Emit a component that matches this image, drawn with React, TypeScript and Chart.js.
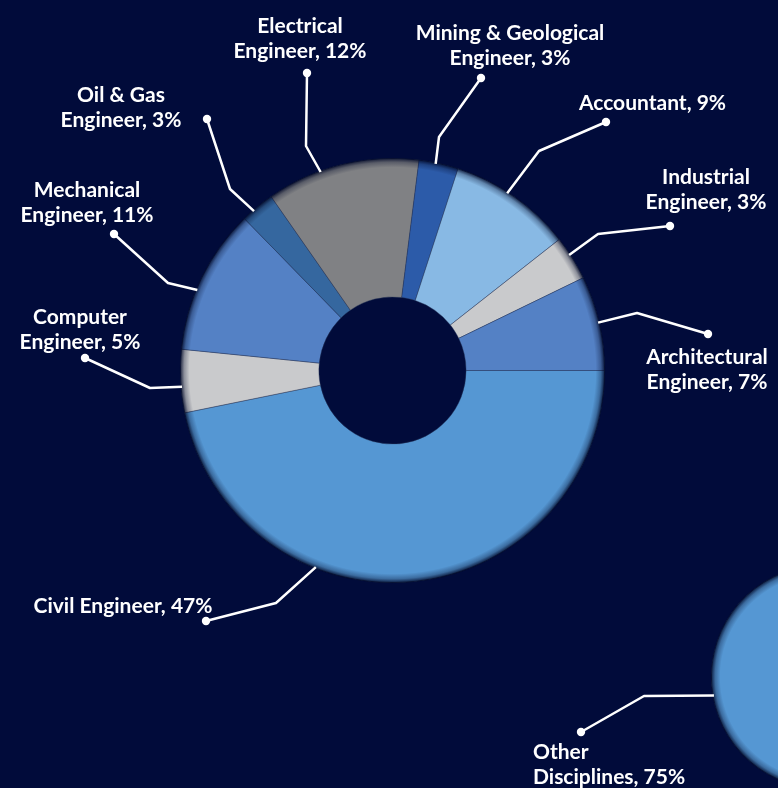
import React, { useEffect, useRef } from "react";
import { Chart, registerables } from "chart.js";

Chart.register(...registerables);

// ---------- data ----------
const categories = [
  "Civil Engineer",
  "Computer Engineer",
  "Mechanical Engineer",
  "Oil & Gas Engineer",
  "Electrical Engineer",
  "Mining & Geological Engineer",
  "Accountant",
  "Industrial Engineer",
  "Architectural Engineer",
];
const shares = [46.8, 4.8, 11.1, 2.6, 11.7, 3.0, 9.4, 3.4, 7.2];
const labelLines = [
  ["Civil Engineer, 47%"],
  ["Computer", "Engineer, 5%"],
  ["Mechanical", "Engineer, 11%"],
  ["Oil & Gas", "Engineer, 3%"],
  ["Electrical", "Engineer, 12%"],
  ["Mining & Geological", "Engineer, 3%"],
  ["Accountant, 9%"],
  ["Industrial", "Engineer, 3%"],
  ["Architectural", "Engineer, 7%"],
];

const overallCategories = ["Other Disciplines", "Engineering & Related"];
const overallShares = [75, 25];
const overallLabelLines = [["Other", "Disciplines, 75%"], null];

// ---------- styles / layout ----------
const BG = "#010b3a";
const sliceColors = [
  "#5597d3",
  "#c9cacc",
  "#5481c5",
  "#35679f",
  "#808184",
  "#2c5ba9",
  "#88b9e4",
  "#c9cacc",
  "#5481c5",
];
const overallColors = ["#5597d3", "#2c5ba9"];

type Leader = { a: number; elbow: number[]; dot: number[]; text: number[]; align: CanvasTextAlign };

const mainLeaders: Leader[] = [
  { a: 111.3, elbow: [-116.5, 232.5], dot: [-186.5, 250.5], text: [-269.5, 235.5], align: "center" },
  { a: 175.6, elbow: [-242.5, 17.5], dot: [-307.5, -12.5], text: [-312.5, -53.5], align: "center" },
  { a: 202.4, elbow: [-224.5, -87.5], dot: [-278.5, -136.5], text: [-305.5, -180.5], align: "center" },
  { a: 229.0, elbow: [-162.5, -181.5], dot: [-185.5, -251.5], text: [-271.5, -275.5], align: "center" },
  { a: 250.1, elbow: [-86.5, -224.5], dot: [-85.5, -297.5], text: [-92.5, -344.5], align: "center" },
  { a: 281.8, elbow: [46.5, -233.5], dot: [88.5, -292.5], text: [117.5, -337.5], align: "center" },
  { a: 302.9, elbow: [146.5, -219.5], dot: [213.5, -248.5], text: [260, -267.5], align: "center" },
  { a: 326.8, elbow: [205.5, -136.5], dot: [277.5, -144.5], text: [313.5, -193.5], align: "center" },
  { a: 346.9, elbow: [244.5, -57.5], dot: [315.5, -36.5], text: [314.5, -13.5], align: "center" },
];
const overallLeaders: (Leader | null)[] = [
  { a: 170.4, elbow: [-179, 19], dot: [-242, 55], text: [-290, 75], align: "left" },
  null,
];

const FONT = "bold 21px Lato";
const LINE_GAP = 25;

function makeDecorPlugin(id: string, leaders: (Leader | null)[], texts: (string[] | null)[]) {
  return {
    id,
    afterDatasetsDraw(chart: any) {
      const meta = chart.getDatasetMeta(0);
      const first = meta.data[0];
      if (!first) return;
      const cx = first.x;
      const cy = first.y;
      const R = first.outerRadius;
      const ctx: CanvasRenderingContext2D = chart.ctx;
      ctx.save();
      // soft inner shading at the rim
      const w = 9;
      const g = ctx.createRadialGradient(cx, cy, R - w, cx, cy, R + 0.5);
      g.addColorStop(0, "rgba(0,8,40,0)");
      g.addColorStop(0.55, "rgba(0,8,40,0.3)");
      g.addColorStop(1, "rgba(0,8,40,0.9)");
      ctx.beginPath();
      ctx.arc(cx, cy, R + 0.5, 0, Math.PI * 2);
      ctx.arc(cx, cy, R - w, 0, Math.PI * 2, true);
      ctx.fillStyle = g;
      ctx.fill();

      // leader lines & labels
      ctx.strokeStyle = "#ffffff";
      ctx.fillStyle = "#ffffff";
      ctx.lineWidth = 2.5;
      ctx.lineJoin = "round";
      ctx.lineCap = "butt";
      leaders.forEach((L, i) => {
        const t = texts[i];
        if (!L || !t) return;
        const rad = (L.a * Math.PI) / 180;
        const sx = cx + (R - 1) * Math.cos(rad);
        const sy = cy + (R - 1) * Math.sin(rad);
        ctx.beginPath();
        ctx.moveTo(sx, sy);
        ctx.lineTo(cx + L.elbow[0], cy + L.elbow[1]);
        ctx.lineTo(cx + L.dot[0], cy + L.dot[1]);
        ctx.stroke();
        ctx.beginPath();
        ctx.arc(cx + L.dot[0], cy + L.dot[1], 4.2, 0, Math.PI * 2);
        ctx.fill();
        ctx.font = FONT;
        ctx.textAlign = L.align;
        ctx.textBaseline = "middle";
        t.forEach((line, k) => {
          ctx.fillText(line, cx + L.text[0], cy + L.text[1] + k * LINE_GAP);
        });
      });
      ctx.restore();
    },
  };
}

export default function App() {
  const mainRef = useRef<HTMLCanvasElement | null>(null);
  const overallRef = useRef<HTMLCanvasElement | null>(null);

  useEffect(() => {
    if (!mainRef.current || !overallRef.current) return;
    const main = new Chart(mainRef.current, {
      type: "doughnut",
      data: {
        labels: categories,
        datasets: [
          {
            data: shares,
            backgroundColor: sliceColors,
            borderColor: "rgba(40,55,90,0.55)",
            borderWidth: 0.8,
            hoverOffset: 0,
          },
        ],
      },
      options: {
        responsive: false,
        animation: false,
        rotation: 90,
        cutout: "34.7%",
        layout: { padding: { left: 180, top: 158, right: 173, bottom: 205 } },
        plugins: { legend: { display: false }, tooltip: { enabled: false }, title: { display: false } },
        events: [],
      },
      plugins: [makeDecorPlugin("mainDecor", mainLeaders, labelLines)],
    });

    const overall = new Chart(overallRef.current, {
      type: "pie",
      data: {
        labels: overallCategories,
        datasets: [
          {
            data: overallShares,
            backgroundColor: overallColors,
            borderColor: "rgba(40,55,90,0.55)",
            borderWidth: 0.8,
            hoverOffset: 0,
          },
        ],
      },
      options: {
        responsive: false,
        animation: false,
        rotation: 125.4,
        layout: { padding: { left: 711, top: 565, right: 65, bottom: 111 } },
        plugins: { legend: { display: false }, tooltip: { enabled: false }, title: { display: false } },
        events: [],
      },
      plugins: [makeDecorPlugin("overallDecor", overallLeaders, overallLabelLines)],
    });

    if ((document as any).fonts && (document as any).fonts.load) {
      (document as any).fonts.load(FONT).then(() => {
        main.update();
        overall.update();
      });
    }

    return () => {
      main.destroy();
      overall.destroy();
    };
  }, []);

  return (
    <div
      style={{
        position: "fixed",
        left: 0,
        top: 0,
        width: 778,
        height: 788,
        overflow: "hidden",
        background: BG,
      }}
    >
      <canvas ref={mainRef} width={778} height={788} style={{ position: "absolute", left: 0, top: 0 }} />
      <canvas ref={overallRef} width={1000} height={900} style={{ position: "absolute", left: 0, top: 0 }} />
    </div>
  );
}
